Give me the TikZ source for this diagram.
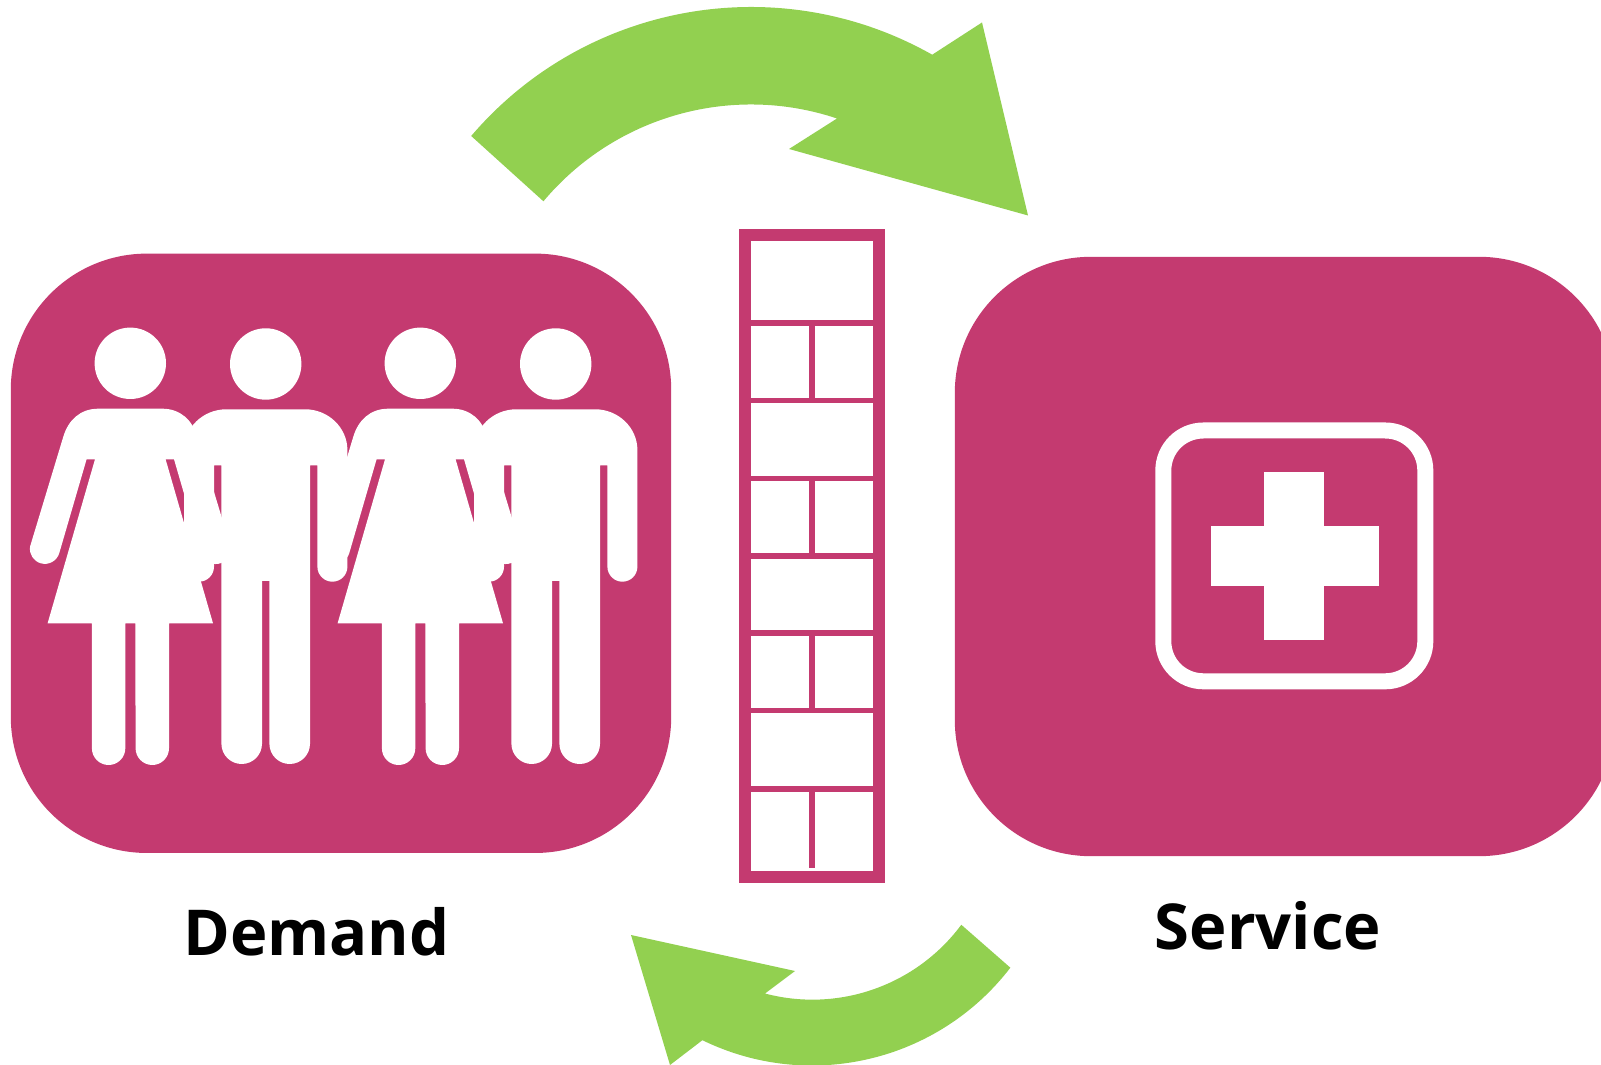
\documentclass[tikz,border=0pt]{standalone}
\usepackage{fontspec}
\setmainfont{Open Sans}

\definecolor{panelpink}{RGB}{196,58,112}
\definecolor{arrowgreen}{RGB}{146,208,80}

\begin{document}
\begin{tikzpicture}[x=0.01cm, y=-0.01cm]
% Styles
\tikzset{
    panel/.style={fill=panelpink, rounded corners=1.36cm, inner sep=0, minimum width=6.6cm, minimum height=5.99cm},
    caption/.style={anchor=base, font=\fontsize{18}{20}\selectfont\bfseries},
    woman/.pic={
        \fill[white] (0, 363.3) circle[radius=35.7];
        \fill[white] (-32, 408.7) -- (32, 408.7) .. controls (50, 408.7) and (62, 420) .. (67, 436.7)
            -- (100.3, 546.7) arc[start angle=-9, end angle=164, radius=15] -- (43.7, 459.3) -- (35.3, 459.3)
            -- (82.7, 623.3) -- (38.7, 623.3) -- (38.7, 748.3) arc[start angle=0, end angle=180, radius=16.7]
            -- (5, 623.3) -- (-5, 623.3) -- (-5, 748.3) arc[start angle=0, end angle=180, radius=16.7]
            -- (-38.4, 623.3) -- (-82.7, 623.3) -- (-35.3, 459.3) -- (-43.7, 459.3)
            -- (-71, 553) arc[start angle=16, end angle=189, radius=15]
            -- (-67, 436.7) .. controls (-62, 420) and (-50, 408.7) .. (-32, 408.7) -- cycle;
    },
    man/.pic={
        \fill[white] (0, 364) circle[radius=35.7];
        \fill[white] (-39.3, 409.3) -- (39.3, 409.3) .. controls (63, 409.3) and (81.7, 428) .. (81.7, 450)
            -- (81.7, 566.7) arc[start angle=0, end angle=180, radius=15] -- (51.7, 465.3) -- (44.3, 465.3)
            -- (44.3, 743.7) arc[start angle=0, end angle=180, radius=20.3] -- (3.7, 581) -- (-3.7, 581)
            -- (-3.7, 743.7) arc[start angle=0, end angle=180, radius=20.3] -- (-44.3, 465.3) -- (-51.7, 465.3)
            -- (-51.7, 566.7) arc[start angle=0, end angle=180, radius=15]
            -- (-81.7, 450) .. controls (-81.7, 428) and (-63, 409.3) .. (-39.3, 409.3) -- cycle;
    }
}
\useasboundingbox (0, 0) rectangle (1601, 1065);
\clip (0, 0) rectangle (1601, 1065);

% Panels
\node[panel] (DEMAND) at (341, 553.3) {};
\node[panel] (SERVICE) at (1285, 556.5) {};

% People
\pic at (130.3, 0) {woman};
\pic at (265.7, 0) {man};
\pic at (420.3, 0) {woman};
\pic at (555.7, 0) {man};

% Cross
\draw[white, line width=0.16cm, rounded corners=0.4cm] (1163.3, 430.5) rectangle (1425.3, 681.3);
\fill[white] (1264, 472) rectangle (1324, 640);
\fill[white] (1211, 526) rectangle (1379, 586);

% Queue
\fill[panelpink] (738.7, 229.3) rectangle (884.7, 883.3);
\foreach \ytop/\ybot in {241.3/320, 403.5/476, 559.5/630, 713.5/786}
    \fill[white] (750.7, \ytop) rectangle (872.7, \ybot);
\foreach \ytop/\ybot in {326/398, 481/553.5, 636/708.5}{
    \fill[white] (750.7, \ytop) rectangle (808.7, \ybot);
    \fill[white] (814.7, \ytop) rectangle (872.7, \ybot);
}
\fill[white] (750.7, 792) rectangle (872.7, 871);
\fill[panelpink] (808.7, 792) rectangle (814.7, 868.3);

% Arrows
\fill[arrowgreen] (220.5:368) ++(751, 375) arc[start angle=220.5, end angle=299.5, radius=368]
    -- (982, 22.5) -- (1028, 215.5) -- (789, 149) -- (837, 118.5)
    arc[start angle=288.5, end angle=220, radius=271] -- cycle;
\fill[arrowgreen] (37.5:250) ++(812, 815.5) arc[start angle=37.5, end angle=116, radius=250]
    -- (670, 1065) -- (631, 935) -- (795, 971) -- (765, 993.5)
    arc[start angle=104.8, end angle=36.6, radius=185.5] -- cycle;

% Labels
\node[caption] (DEMANDLBL) at (316.5, 955.6) {Demand};
\node[caption] (SERVICELBL) at (1268, 949.5) {Service};
\end{tikzpicture}
\end{document}
